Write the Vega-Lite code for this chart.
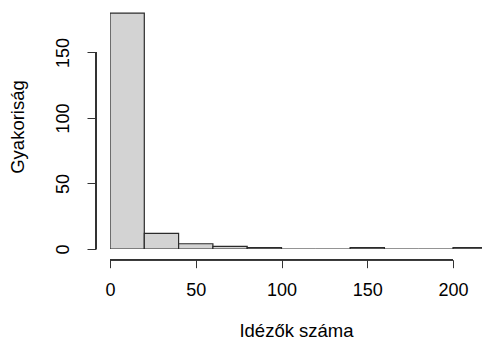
{
  "$schema": "https://vega.github.io/schema/vega-lite/v6.json",
  "width": 372,
  "height": 245,
  "autosize": {"type": "none"},
  "padding": {"left": 110, "top": 4, "right": 0, "bottom": 91},
  "background": "white",
  "config": {"view": {"stroke": null}, "font": "Liberation Sans"},
  "data": {"values": [
    {"start": 0, "end": 20, "count": 180},
    {"start": 20, "end": 40, "count": 12},
    {"start": 40, "end": 60, "count": 4},
    {"start": 60, "end": 80, "count": 2},
    {"start": 80, "end": 100, "count": 1},
    {"start": 100, "end": 120, "count": 0},
    {"start": 120, "end": 140, "count": 0},
    {"start": 140, "end": 160, "count": 1},
    {"start": 160, "end": 180, "count": 0},
    {"start": 180, "end": 200, "count": 0},
    {"start": 200, "end": 220, "count": 1}
  ]},
  "layer": [
    {
      "mark": {"type": "bar", "fill": "#d3d3d3", "stroke": "#2b2b2b", "strokeWidth": 1.2, "clip": true},
      "encoding": {
        "x": {"field": "start", "type": "quantitative",
          "scale": {"domain": [0, 216.9], "nice": false, "zero": false},
          "axis": {"title": "Idézők száma", "values": [0, 50, 100, 150, 200], "offset": 10.7, "domain": false,
            "grid": false, "tickSize": 8, "tickColor": "#333333", "tickWidth": 1,
            "labelFontSize": 18, "labelColor": "#000000", "labelPadding": 14, "labelFlush": false, "labelOverlap": false,
            "titleFontSize": 18.5, "titleFontWeight": "normal", "titleColor": "#000000", "titlePadding": 22}},
        "x2": {"field": "end"},
        "y": {"field": "count", "type": "quantitative",
          "scale": {"domain": [0, 187], "nice": false},
          "axis": {"title": "Gyakoriság", "values": [0, 50, 100, 150], "offset": 14, "domain": false,
            "grid": false, "tickSize": 9, "tickColor": "#333333", "tickWidth": 1,
            "labelFontSize": 18, "labelColor": "#000000", "labelAngle": -90, "labelAlign": "center", "labelBaseline": "bottom",
            "labelPadding": 15, "labelFlush": false, "labelOverlap": false,
            "titleFontSize": 18.5, "titleFontWeight": "normal", "titleColor": "#000000", "titlePadding": 27}},
        "y2": {"datum": 0}
      }
    },
    {
      "mark": {"type": "rule", "stroke": "#333333", "strokeWidth": 1},
      "encoding": {"x": {"datum": -8.16, "type": "quantitative"}, "y": {"datum": 0, "type": "quantitative"}, "y2": {"datum": 150}}
    },
    {
      "mark": {"type": "rule", "stroke": "#333333", "strokeWidth": 1},
      "encoding": {"y": {"datum": -8.2, "type": "quantitative"}, "x": {"datum": 0, "type": "quantitative"}, "x2": {"datum": 200}}
    }
  ]
}
